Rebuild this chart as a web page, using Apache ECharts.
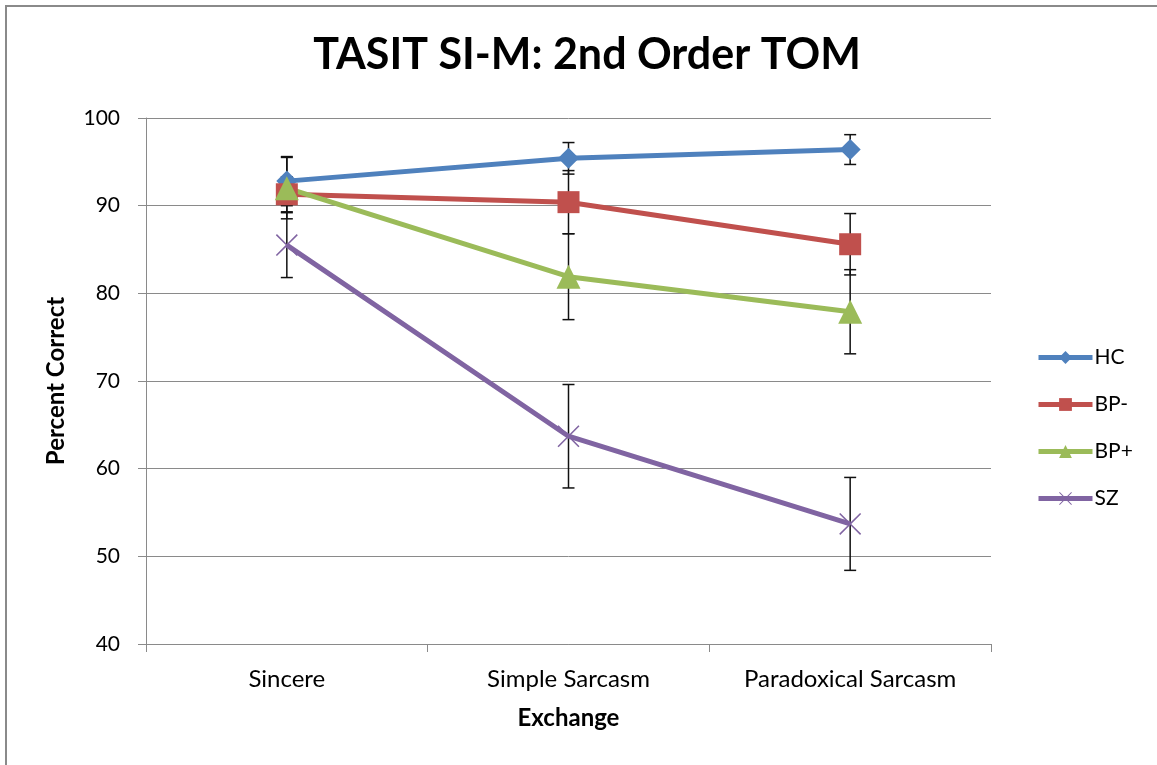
<!DOCTYPE html>
<html>
<head>
<meta charset="utf-8">
<script src="https://cdn.jsdelivr.net/npm/echarts@6/dist/echarts.min.js"></script>
<style>
  html, body { margin: 0; padding: 0; background: #fff; }
  #chart { width: 1157px; height: 765px; }
</style>
</head>
<body>
<div id="chart"></div>
<script>
var categories = ['Sincere', 'Simple Sarcasm', 'Paradoxical Sarcasm'];
var seriesNames = ['HC', 'BP-', 'BP+', 'SZ'];
var hcMean = [92.8, 95.4, 96.4];
var hcErr = [2.8, 1.8, 1.7];
var bpMinusMean = [91.3, 90.4, 85.6];
var bpMinusErr = [2.0, 3.6, 3.5];
var bpPlusMean = [92.0, 81.9, 77.9];
var bpPlusErr = [3.5, 4.9, 4.8];
var szMean = [85.5, 63.7, 53.7];
var szErr = [3.7, 5.9, 5.3];
var yTicks = [40, 50, 60, 70, 80, 90, 100];

var colors = ['#4F81BD', '#C0504D', '#9BBB59', '#8064A2'];
var means = [hcMean, bpMinusMean, bpPlusMean, szMean];
var errs = [hcErr, bpMinusErr, bpPlusErr, szErr];
var symbols = [
    'diamond',
    'rect',
    'triangle',
    'path://M0,1L1,0L10,9L19,0L20,1L11,10L20,19L19,20L10,11L1,20L0,19L9,10Z'
];
var symbolSizes = [21, 22, 24, 22];
var font = 'Lato, "Open Sans", sans-serif';

var myChart = echarts.init(document.getElementById('chart'));

function errorBarItem(params, api) {
    var x = api.value(0);
    var lo = api.coord([x, api.value(1)]);
    var hi = api.coord([x, api.value(2)]);
    var half = 6;
    var style = { stroke: '#111', lineWidth: 1.5 };
    return {
        type: 'group',
        children: [
            { type: 'line', shape: { x1: lo[0], y1: lo[1], x2: hi[0], y2: hi[1] }, style: style },
            { type: 'line', shape: { x1: lo[0] - half, y1: lo[1], x2: lo[0] + half, y2: lo[1] }, style: style },
            { type: 'line', shape: { x1: hi[0] - half, y1: hi[1], x2: hi[0] + half, y2: hi[1] }, style: style }
        ]
    };
}

var series = [];
seriesNames.forEach(function (name, i) {
    var bars = means[i].map(function (m, j) {
        return [j, m - errs[i][j], m + errs[i][j]];
    });
    series.push({
        type: 'custom',
        name: name + ' error',
        renderItem: errorBarItem,
        data: bars,
        encode: { x: 0, y: [1, 2] },
        z: 1,
        silent: true
    });
});
seriesNames.forEach(function (name, i) {
    series.push({
        type: 'line',
        name: name,
        data: means[i],
        symbol: symbols[i],
        symbolSize: symbolSizes[i],
        showSymbol: true,
        color: colors[i],
        lineStyle: { width: 5, color: colors[i] },
        itemStyle: { color: colors[i] },
        z: 3
    });
});

var option = {
    animation: false,
    graphic: [{
        type: 'rect',
        shape: { x: 6, y: 6, width: 1170, height: 780 },
        style: { fill: 'none', stroke: '#8a8a8a', lineWidth: 2 },
        silent: true
    }],
    title: {
        text: 'TASIT SI-M: 2nd Order TOM',
        left: 582,
        top: 29,
        textAlign: 'center',
        textStyle: { fontFamily: font, fontWeight: 'bold', fontSize: 43, color: '#000' }
    },
    legend: {
        data: seriesNames,
        orient: 'vertical',
        left: 1031,
        top: 342,
        itemWidth: 54,
        itemHeight: 16,
        itemGap: 26,
        lineStyle: { width: 5 },
        textStyle: { fontFamily: font, fontSize: 21, color: '#000', padding: [0, 0, 0, -3] }
    },
    grid: { left: 146, right: 166, top: 118, bottom: 121, containLabel: false },
    xAxis: {
        type: 'category',
        data: categories,
        boundaryGap: true,
        name: 'Exchange',
        nameLocation: 'middle',
        nameGap: 62,
        nameTextStyle: { fontFamily: font, fontWeight: 'bold', fontSize: 24, color: '#000' },
        axisLine: { lineStyle: { color: '#8a8a8a', width: 1 } },
        axisTick: { show: true, length: 8, alignWithLabel: false, lineStyle: { color: '#8a8a8a' } },
        axisLabel: { fontFamily: font, fontSize: 24, color: '#000', margin: 23 },
        splitLine: { show: false }
    },
    yAxis: {
        type: 'value',
        min: yTicks[0],
        max: yTicks[yTicks.length - 1],
        interval: 10,
        name: 'Percent Correct',
        nameLocation: 'middle',
        nameGap: 78,
        nameTextStyle: { fontFamily: font, fontWeight: 'bold', fontSize: 24, color: '#000' },
        axisLine: { show: true, lineStyle: { color: '#8a8a8a', width: 1 } },
        axisTick: { show: true, length: 8, lineStyle: { color: '#8a8a8a' } },
        axisLabel: { fontFamily: font, fontSize: 21, color: '#000', margin: 26 },
        splitLine: { show: true, lineStyle: { color: '#8a8a8a', width: 1 } }
    },
    series: series
};
myChart.setOption(option);
</script>
</body>
</html>
